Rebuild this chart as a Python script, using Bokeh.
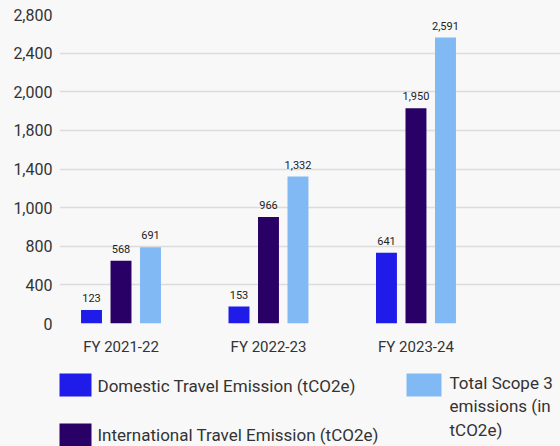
from bokeh.plotting import figure
from bokeh.layouts import column
from bokeh.models import Range1d, FixedTicker, ColumnDataSource
from bokeh.core.properties import value
from bokeh.embed import file_html
from bokeh.resources import INLINE

categories = ["FY 2021-22", "FY 2022-23", "FY 2023-24"]
domestic = [123, 153, 641]
international = [568, 966, 1950]
total = [691, 1332, 2591]
series_names = ["Domestic Travel Emission (tCO2e)",
                "International Travel Emission (tCO2e)",
                "Total Scope 3\nemissions (in\ntCO2e)"]
series_colors = ["#1f1be8", "#290065", "#80b9f4"]
y_ticks = [0, 350, 700, 1050, 1400, 1750, 2100, 2450, 2800]
y_tick_labels = ["0", "400", "800", "1,000", "1,400", "1,800", "2,000", "2,400", "2,800"]

FONT = "Roboto"
BG = "#f8f8f8"
TXT = "#333333"
W = 560
LEFT = 59

p = figure(width=W, height=358, output_backend="svg", toolbar_location=None,
           x_range=Range1d(-0.417, 2.98), y_range=Range1d(0, 2800),
           min_border_left=LEFT, min_border_right=0, min_border_top=14, min_border_bottom=0,
           background_fill_color=BG, border_fill_color=BG, outline_line_color=None)

xs = list(range(len(categories)))
offsets = [-0.2, 0.0, 0.2]
for vals, off, col in zip([domestic, international, total], offsets, series_colors):
    src = ColumnDataSource(dict(x=[i + off for i in xs], top=vals,
                                lab=[f"{v:,}" for v in vals]))
    p.vbar(x="x", top="top", width=0.142, source=src, fill_color=col, line_color=None)
    p.text(x="x", y="top", text="lab", source=src, text_align="center",
           text_baseline="bottom", y_offset=-8, text_font=value(FONT),
           text_font_size="11px", text_color="#222222")

p.xaxis.ticker = FixedTicker(ticks=xs)
p.xaxis.major_label_overrides = {i: c for i, c in zip(xs, categories)}
p.yaxis.ticker = FixedTicker(ticks=y_ticks)
p.yaxis.major_label_overrides = {t: l for t, l in zip(y_ticks, y_tick_labels)}
for ax in (p.xaxis, p.yaxis):
    ax.axis_line_color = None
    ax.major_tick_line_color = None
    ax.minor_tick_line_color = None
    ax.major_tick_in = 0
    ax.major_tick_out = 0
    ax.major_label_text_font = FONT
    ax.major_label_text_color = TXT
p.xaxis.major_label_text_font_size = "15px"
p.yaxis.major_label_text_font_size = "16px"
p.xaxis.major_label_standoff = 14
p.yaxis.major_label_standoff = 7
p.xgrid.grid_line_color = None
p.ygrid.ticker = FixedTicker(ticks=y_ticks)
p.ygrid.grid_line_color = "#dcdcdc"
p.ygrid.grid_line_width = 1.5

# legend panel, coordinates in page pixels (y downwards)
leg = figure(width=W, height=88, output_backend="svg", toolbar_location=None,
             x_range=Range1d(LEFT, W), y_range=Range1d(446, 358),
             min_border_left=LEFT, min_border_right=0, min_border_top=0, min_border_bottom=0,
             background_fill_color=BG, border_fill_color=BG, outline_line_color=None)
leg.axis.visible = False
leg.grid.visible = False
sw_x = [56, 56, 406]
sw_y = [373, 423, 373]
leg.quad(left=sw_x, right=[x + 35 for x in sw_x], top=sw_y, bottom=[y + 23 for y in sw_y],
         fill_color=series_colors, line_color=None)
tx_x = [97, 97, 449]
tx_y = [385, 434, 372]
for i, name in enumerate(series_names):
    leg.text(x=[tx_x[i]], y=[tx_y[i]], text=[name],
             text_baseline="middle" if i < 2 else "top", text_font=value(FONT),
             text_font_size="17px", text_color=TXT, text_line_height=1.18)

layout = column(p, leg, spacing=0, styles={"background-color": BG})
open("out.html", "w").write(file_html(layout, INLINE))
